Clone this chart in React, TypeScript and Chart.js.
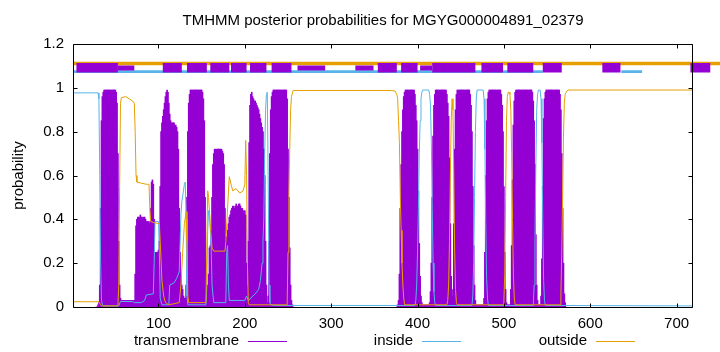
import React, { useEffect, useRef } from "react";
import { Chart, registerables } from "chart.js";

Chart.register(...registerables);

// ---------------- data ----------------
const TITLE = "TMHMM posterior probabilities for MGYG000004891_02379";
const SEQ_START = 1;
const SEQ_END = 719;
const xTicks = [100, 200, 300, 400, 500, 600, 700];
const yTicks = [0, 0.2, 0.4, 0.6, 0.8, 1, 1.2];
const yTickLabels = ["0", "0.2", "0.4", "0.6", "0.8", "1", "1.2"];
const legendLabels = ["transmembrane", "inside", "outside"];

// transmembrane posterior probability, one value per residue
const tmSeg1Start = 28;
const tmSeg1 = [
  0, 0, 0.01, 0.02, 0.1, 0.45, 0.85, 0.96, 0.98,
  0.99, 0.99, 0.99, 0.99, 0.99, 0.99, 0.99, 0.99, 0.99, 0.99, 0.99, 0.99, 0.99, 0.99,
  0.98, 0.93, 0.7, 0.3, 0.1, 0.04,
  0.03, 0.03, 0.03, 0.03, 0.03, 0.03, 0.03, 0.03, 0.03, 0.03, 0.03, 0.03, 0.03, 0.03, 0.03, 0.03,
  0.15, 0.37, 0.4, 0.41, 0.41, 0.41, 0.42, 0.41, 0.41, 0.4, 0.41, 0.41, 0.4, 0.39, 0.39, 0.39, 0.39, 0.38,
  0.45, 0.57, 0.58, 0.56, 0.4, 0.25, 0.25, 0.25, 0.25, 0.26, 0.3,
  0.55, 0.8, 0.84, 0.87, 0.9, 0.93, 0.96, 0.98, 0.99, 0.98, 0.93, 0.88, 0.85,
  0.84, 0.84, 0.84, 0.84, 0.83, 0.83, 0.82, 0.8, 0.72, 0.45, 0.25, 0.15, 0.1, 0.08, 0.05, 0.04, 0.04,
  0.1, 0.5, 0.8, 0.93, 0.97,
  0.99, 0.99, 0.99, 0.99, 0.99, 0.99, 0.99, 0.99, 0.99, 0.99, 0.99, 0.99, 0.99, 0.99,
  0.98, 0.95, 0.85, 0.5, 0.2, 0.08, 0.1, 0.15, 0.27, 0.28, 0.35, 0.5, 0.65, 0.7,
  0.72, 0.72, 0.72, 0.72, 0.72, 0.72, 0.72, 0.72, 0.72, 0.71, 0.7, 0.65, 0.45,
  0.32, 0.32, 0.35, 0.38, 0.41, 0.42, 0.44, 0.45, 0.46, 0.46, 0.45, 0.46, 0.47, 0.46, 0.46, 0.47,
  0.47, 0.46, 0.45, 0.45, 0.44, 0.43, 0.44, 0.42, 0.2, 0.1,
  0.3, 0.75, 0.92, 0.97, 0.98, 0.96, 0.95, 0.94, 0.94, 0.93, 0.92, 0.91, 0.9, 0.88, 0.86, 0.84,
  0.82, 0.8, 0.72, 0.6, 0.3, 0.1, 0.02, 0.05,
  0.3, 0.7, 0.9, 0.96, 0.98,
  0.99, 0.99, 0.99, 0.99, 0.99, 0.99, 0.99, 0.99, 0.99, 0.99, 0.99, 0.99, 0.99, 0.99, 0.99, 0.99,
  0.95, 0.72, 0.5, 0.27, 0.1, 0.03, 0.01, 0,
];
const tmSeg2Start = 376;
const tmSeg2 = [
  0, 0.01, 0.03, 0.15, 0.45, 0.65, 0.8, 0.9, 0.96, 0.98,
  0.99, 0.99, 0.99, 0.99, 0.99, 0.99, 0.99, 0.99, 0.99, 0.99, 0.99,
  0.97, 0.92, 0.85, 0.72, 0.53, 0.29, 0.14, 0.05, 0.02,
  0.01, 0.01, 0.01, 0.01, 0.01, 0.01, 0.01, 0.01,
  0.02, 0.07, 0.2, 0.5, 0.78, 0.92, 0.97,
  0.99, 0.99, 0.99, 0.99, 0.99, 0.99, 0.99, 0.99, 0.99, 0.99, 0.99, 0.99, 0.99,
  0.97, 0.93, 0.87, 0.68, 0.38, 0.14, 0.05, 0.08, 0.38, 0.72, 0.9, 0.97,
  0.99, 0.99, 0.99, 0.99, 0.99, 0.99, 0.99, 0.99, 0.99, 0.99, 0.99, 0.99, 0.99, 0.99, 0.99,
  0.97, 0.92, 0.8, 0.55, 0.28, 0.1, 0.03,
  0.01, 0.01, 0.01, 0.01, 0.01, 0.01, 0.01, 0.01, 0.01,
  0.04, 0.25, 0.6, 0.85, 0.95, 0.98,
  0.99, 0.99, 0.99, 0.99, 0.99, 0.99, 0.99, 0.99, 0.99, 0.99, 0.99, 0.99, 0.99, 0.99,
  0.97, 0.92, 0.8, 0.55, 0.25, 0.08, 0.02,
  0.01, 0.01, 0.01, 0.01,
  0.08, 0.28, 0.58, 0.83, 0.94, 0.98,
  0.99, 0.99, 0.99, 0.99, 0.99, 0.99, 0.99, 0.99, 0.99, 0.99, 0.99, 0.99, 0.99, 0.99, 0.99, 0.99, 0.99, 0.99, 0.99,
  0.98, 0.94, 0.85, 0.65, 0.33, 0.1, 0.03,
  0.01, 0.01, 0.01,
  0.05, 0.22, 0.55, 0.86, 0.95, 0.98,
  0.99, 0.99, 0.99, 0.99, 0.99, 0.99, 0.99, 0.99, 0.99, 0.99, 0.99, 0.99, 0.99, 0.99, 0.99, 0.99,
  0.97, 0.9, 0.7, 0.45, 0.2, 0.06, 0.02, 0,
];

// inside probability (residue, value)
const insideX = [1, 30, 31, 32, 33, 34, 35, 36, 54, 56, 70, 72, 80, 84, 86, 94, 95, 96, 100, 101, 102, 104, 112, 113, 118, 121, 124, 126, 127, 130, 131, 132, 133, 134, 155, 156, 157, 158, 159, 160, 161, 162, 164, 178, 179, 180, 181, 182, 200, 202, 204, 212, 216, 218, 220, 221, 222, 223, 224, 225, 226, 227, 228, 229, 230, 235, 397, 398, 399, 400, 401, 402, 403, 404, 405, 406, 413, 414, 415, 416, 417, 418, 419, 420, 421, 463, 464, 465, 466, 467, 468, 469, 476, 477, 478, 479, 480, 481, 482, 534, 535, 536, 537, 538, 539, 540, 542, 543, 544, 545, 546, 547, 548, 719];
const insideY = [0.977, 0.977, 0.95, 0.6, 0.2, 0.03, 0.01, 0.005, 0.005, 0.025, 0.025, 0.02, 0.02, 0.03, 0.055, 0.06, 0.2, 0.39, 0.39, 0.25, 0.04, 0.01, 0.01, 0.1, 0.11, 0.13, 0.16, 0.42, 0.48, 0.56, 0.57, 0.4, 0.05, 0.01, 0.01, 0.1, 0.35, 0.44, 0.42, 0.35, 0.27, 0.1, 0.02, 0.02, 0.25, 0.28, 0.1, 0.03, 0.03, 0.05, 0.03, 0.06, 0.08, 0.12, 0.2, 0.3, 0.41, 0.7, 0.9, 0.97, 0.98, 0.6, 0.1, 0.02, 0.01, 0.007, 0.007, 0.03, 0.1, 0.25, 0.45, 0.7, 0.85, 0.95, 0.98, 0.99, 0.99, 0.97, 0.92, 0.75, 0.45, 0.2, 0.07, 0.02, 0.007, 0.007, 0.05, 0.2, 0.5, 0.8, 0.95, 0.99, 0.99, 0.95, 0.72, 0.38, 0.13, 0.04, 0.007, 0.007, 0.1, 0.3, 0.65, 0.9, 0.97, 0.99, 0.99, 0.95, 0.75, 0.4, 0.12, 0.03, 0.007, 0.005];

// outside probability (residue, value)
const outsideX = [1, 31, 33, 34, 53, 54, 55, 56, 57, 62, 66, 70, 72, 73, 74, 75, 80, 86, 89, 90, 91, 95, 101, 102, 104, 106, 108, 112, 124, 126, 128, 130, 132, 133, 134, 135, 155, 156, 157, 158, 160, 162, 164, 177, 178, 180, 182, 184, 186, 190, 194, 198, 200, 201, 202, 203, 204, 205, 249, 250, 251, 252, 253, 254, 256, 370, 374, 376, 377, 378, 379, 380, 381, 382, 383, 384, 385, 434, 435, 436, 437, 438, 439, 440, 441, 442, 443, 444, 445, 446, 499, 500, 501, 502, 503, 504, 505, 506, 507, 508, 509, 510, 511, 512, 513, 565, 566, 567, 568, 569, 570, 571, 572, 574, 719];
const outsideY = [0.024, 0.024, 0.01, 0.005, 0.005, 0.1, 0.55, 0.93, 0.955, 0.96, 0.95, 0.94, 0.93, 0.8, 0.6, 0.57, 0.565, 0.56, 0.56, 0.45, 0.39, 0.385, 0.38, 0.3, 0.12, 0.05, 0.02, 0.01, 0.02, 0.1, 0.25, 0.38, 0.435, 0.3, 0.05, 0.02, 0.02, 0.3, 0.53, 0.5, 0.38, 0.27, 0.255, 0.255, 0.3, 0.45, 0.595, 0.56, 0.53, 0.54, 0.52, 0.53, 0.56, 0.76, 0.6, 0.2, 0.02, 0.01, 0.01, 0.25, 0.5, 0.72, 0.9, 0.96, 0.988, 0.988, 0.985, 0.97, 0.95, 0.85, 0.75, 0.5, 0.35, 0.2, 0.1, 0.04, 0.01, 0.01, 0.03, 0.1, 0.3, 0.6, 0.85, 0.95, 0.9, 0.6, 0.25, 0.08, 0.02, 0.01, 0.01, 0.03, 0.15, 0.5, 0.85, 0.96, 0.98, 0.98, 0.97, 0.9, 0.7, 0.4, 0.15, 0.04, 0.01, 0.01, 0.05, 0.25, 0.5, 0.78, 0.93, 0.97, 0.98, 0.99, 0.99];

// predicted topology strip (residue ranges)
const stripOutsideSegs = [[1, 760]];
const stripInsideSegs = [[1, 545], [636, 660], [739, 745]];
const stripTmSegs = [[5, 53], [105, 127], [133, 156], [160, 182], [184, 202], [206, 225], [231, 254], [354, 376], [381, 400], [417, 467], [474, 499], [504, 534], [545, 567], [614, 635], [716, 739], [745, 760]];
const stripTmThinSegs = [[53, 72], [261, 293], [328, 349], [403, 417]];

// ---------------- styling ----------------
const PURPLE = "#9400d3";
const BLUE = "#56b4e9";
const ORANGE = "#e69f00";
const FONT = '"Liberation Sans", Arial, Helvetica, sans-serif';
const FS = 15;

function segData(segs: number[][], level: number) {
  const out: any[] = [];
  segs.forEach(([a, b]) => {
    out.push({ x: a, y: level }, { x: b, y: level }, { x: b, y: null });
  });
  return out;
}

const decoPlugin = {
  id: "deco",
  afterDatasetsDraw(chart: any) {
    const { ctx, chartArea: a, scales } = chart;
    const xs = scales.x;
    const ys = scales.y;
    const L = Math.round(a.left) + 0.5;
    const R = Math.round(a.right) - 0.5;
    const T = Math.round(a.top) + 0.5;
    const B = Math.round(a.bottom) + 0.5;
    ctx.save();
    ctx.strokeStyle = "#000";
    ctx.lineWidth = 1;
    ctx.beginPath();
    xTicks.forEach((v) => {
      const px = Math.round(xs.getPixelForValue(v)) + 0.5;
      ctx.moveTo(px, B);
      ctx.lineTo(px, B - 4);
      ctx.moveTo(px, T);
      ctx.lineTo(px, T + 4);
    });
    yTicks.forEach((v) => {
      const py = Math.round(ys.getPixelForValue(v)) + 0.5;
      ctx.moveTo(L, py);
      ctx.lineTo(L + 4, py);
      ctx.moveTo(R, py);
      ctx.lineTo(R - 4, py);
    });
    ctx.stroke();
    ctx.beginPath();
    ctx.rect(L, T, R - L, B - T);
    ctx.stroke();
    ctx.restore();
  },
  afterDraw(chart: any) {
    const { ctx, chartArea: a } = chart;
    ctx.save();
    ctx.fillStyle = "#000";
    ctx.font = `${FS}px ${FONT}`;
    ctx.textBaseline = "middle";
    ctx.textAlign = "center";
    ctx.fillText(TITLE, (a.left + a.right) / 2, 21);
    // y title
    ctx.save();
    ctx.translate(19, (a.top + a.bottom) / 2);
    ctx.rotate(-Math.PI / 2);
    ctx.fillText("probability", 0, 0);
    ctx.restore();
    // legend
    const items = [
      { label: legendLabels[0], color: PURPLE, textEnd: 239, l0: 248, l1: 287 },
      { label: legendLabels[1], color: BLUE, textEnd: 413, l0: 422, l1: 461 },
      { label: legendLabels[2], color: ORANGE, textEnd: 587, l0: 596, l1: 635 },
    ];
    ctx.textAlign = "right";
    items.forEach((it) => {
      ctx.fillStyle = "#000";
      ctx.fillText(it.label, it.textEnd, 341);
      ctx.strokeStyle = it.color;
      ctx.lineWidth = 1;
      ctx.beginPath();
      ctx.moveTo(it.l0, 341.5);
      ctx.lineTo(it.l1, 341.5);
      ctx.stroke();
    });
    ctx.restore();
  },
};

export default function App() {
  const ref = useRef<HTMLCanvasElement | null>(null);
  useEffect(() => {
    if (!ref.current) return;
    const tmData: any[] = [];
    tmSeg1.forEach((v, i) => tmData.push({ x: tmSeg1Start + i, y: v }));
    tmSeg2.forEach((v, i) => tmData.push({ x: tmSeg2Start + i, y: v }));
    const inData = insideX.map((x, i) => ({ x, y: insideY[i] }));
    const outData = outsideX.map((x, i) => ({ x, y: outsideY[i] }));
    const lineBase = {
      type: "line" as const,
      pointRadius: 0,
      pointHoverRadius: 0,
      tension: 0,
      fill: false,
      spanGaps: false,
    };
    const chart = new Chart(ref.current, {
      type: "bar",
      data: {
        datasets: [
          {
            ...lineBase,
            label: "strip-outside",
            data: segData(stripOutsideSegs, 1.111),
            borderColor: ORANGE,
            borderWidth: 3.4,
            clip: false,
            order: 3,
          } as any,
          {
            ...lineBase,
            label: "strip-inside",
            data: segData(stripInsideSegs, 1.0735),
            borderColor: BLUE,
            borderWidth: 2.7,
            clip: false,
            order: 2,
          } as any,
          {
            ...lineBase,
            label: "strip-tm-thin",
            data: segData(stripTmThinSegs, 1.091),
            borderColor: PURPLE,
            borderWidth: 5,
            clip: false,
            order: 1,
          } as any,
          {
            ...lineBase,
            label: "strip-tm",
            data: segData(stripTmSegs, 1.0915),
            borderColor: PURPLE,
            borderWidth: 9.4,
            clip: false,
            order: 0,
          } as any,
          {
            type: "bar",
            label: "transmembrane",
            data: tmData,
            backgroundColor: PURPLE,
            borderWidth: 0,
            barThickness: 1,
            order: 10,
          } as any,
          {
            ...lineBase,
            label: "inside",
            data: inData,
            borderColor: BLUE,
            borderWidth: 1,
            order: 8,
          } as any,
          {
            ...lineBase,
            label: "outside",
            data: outData,
            borderColor: ORANGE,
            borderWidth: 1,
            order: 7,
          } as any,
        ],
      },
      options: {
        animation: false,
        responsive: false,
        maintainAspectRatio: false,
        devicePixelRatio: 1,
        layout: { padding: { top: 44, right: 27, left: 0, bottom: 0 } },
        plugins: {
          legend: { display: false },
          title: { display: false },
          tooltip: { enabled: false },
        },
        events: [],
        scales: {
          x: {
            type: "linear",
            min: SEQ_START,
            max: SEQ_END,
            offset: false,
            grid: { display: false, drawTicks: false },
            border: { display: false },
            ticks: {
              color: "#000",
              font: { family: FONT, size: FS },
              padding: 8,
              maxRotation: 0,
              autoSkip: false,
            },
            afterBuildTicks: (s: any) => {
              s.ticks = xTicks.map((v) => ({ value: v }));
            },
            afterFit: (s: any) => {
              s.height = 45;
            },
          } as any,
          y: {
            type: "linear",
            min: 0,
            max: 1.2,
            grid: { display: false, drawTicks: false },
            border: { display: false },
            ticks: {
              color: "#000",
              font: { family: FONT, size: FS },
              padding: 9,
              callback: (v: any) => {
                const idx = yTicks.findIndex((t) => Math.abs(t - v) < 1e-6);
                return idx >= 0 ? yTickLabels[idx] : "";
              },
            },
            afterBuildTicks: (s: any) => {
              s.ticks = yTicks.map((v) => ({ value: v }));
            },
            afterFit: (s: any) => {
              s.width = 73;
            },
          } as any,
        },
      },
      plugins: [decoPlugin],
    });
    return () => chart.destroy();
  }, []);
  return (
    <div style={{ position: "fixed", left: 0, top: 0, width: 720, height: 352, background: "#fff" }}>
      <canvas ref={ref} width={720} height={352} style={{ display: "block", width: 720, height: 352 }} />
    </div>
  );
}
